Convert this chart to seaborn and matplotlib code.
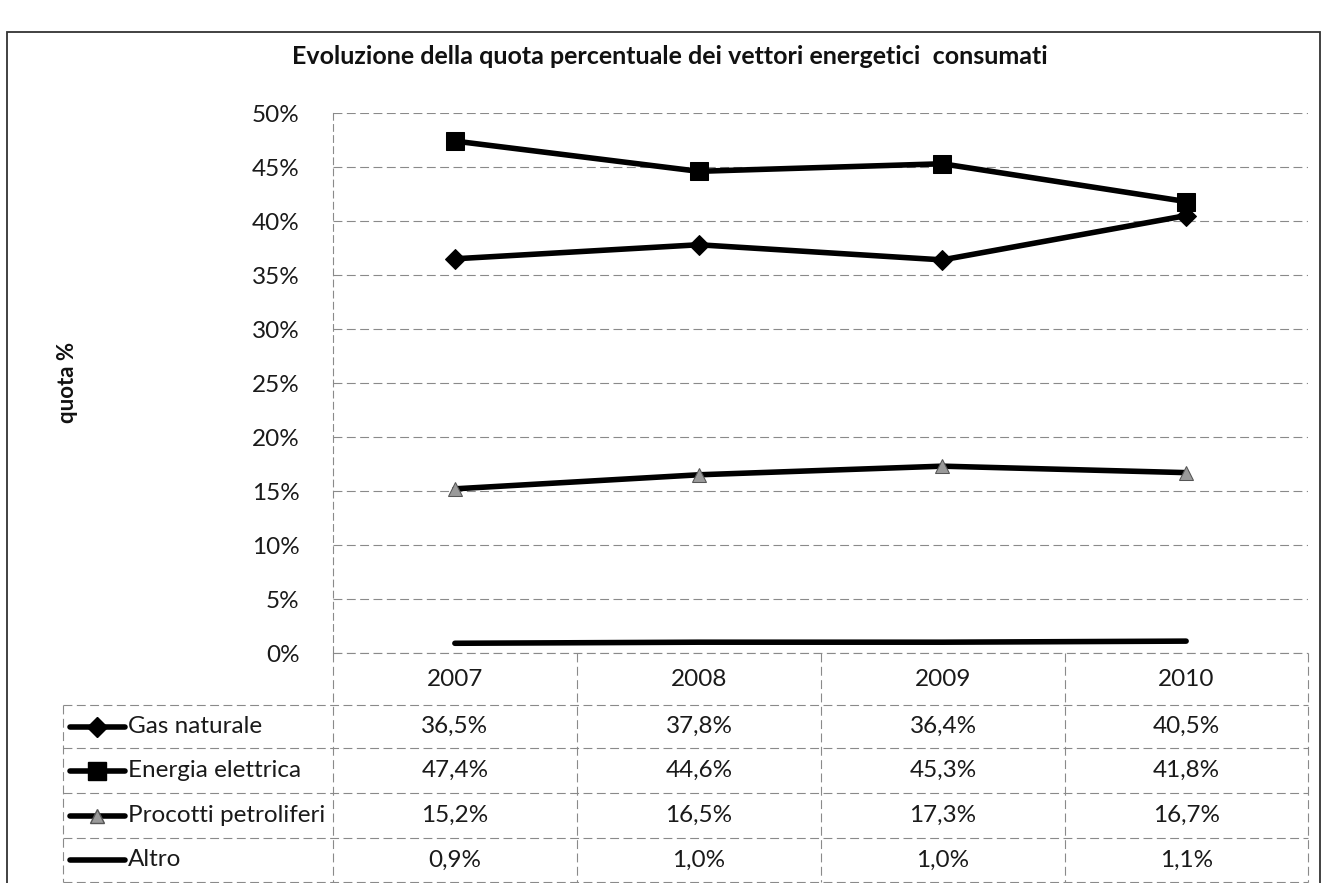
import matplotlib
matplotlib.use("Agg")
import numpy as np
import pandas as pd
import matplotlib.pyplot as plt
import seaborn as sns
from matplotlib.lines import Line2D
from matplotlib.patches import Rectangle

# ---------------- data ----------------
years = ["2007", "2008", "2009", "2010"]
series = ["Gas naturale", "Energia elettrica", "Procotti petroliferi", "Altro"]
gas_naturale = [36.5, 37.8, 36.4, 40.5]
energia_elettrica = [47.4, 44.6, 45.3, 41.8]
prodotti_petroliferi = [15.2, 16.5, 17.3, 16.7]
altro = [0.9, 1.0, 1.0, 1.1]
y_ticks = [0, 5, 10, 15, 20, 25, 30, 35, 40, 45, 50]
title = "Evoluzione della quota percentuale dei vettori energetici  consumati"
y_label = "quota %"

values = [gas_naturale, energia_elettrica, prodotti_petroliferi, altro]
df = pd.DataFrame({
    "serie": np.repeat(series, len(years)),
    "anno": years * len(series),
    "pos": list(range(len(years))) * len(series),
    "valore": np.concatenate(values),
})

# ---------------- style ----------------
sns.set_theme(style="white")
plt.rcParams['font.family'] = ['Lato', 'DejaVu Sans']

W, H = 1327, 883
fig = plt.figure(figsize=(W / 100, H / 100), dpi=100)
fig.patch.set_facecolor("white")

FS = 17.5
TXT = "#1a1a1a"


def fx(px):
    return px / W


def fy(py):
    return 1 - py / H


L, R, T, B = 333, 1308, 113, 653
ax = fig.add_axes([fx(L), fy(B), fx(R) - fx(L), fy(T) - fy(B)])

marker_style = {
    "Gas naturale": dict(marker="D", markersize=10, markerfacecolor="black", markeredgecolor="black"),
    "Energia elettrica": dict(marker="s", markersize=13, markerfacecolor="black", markeredgecolor="black"),
    "Procotti petroliferi": dict(marker="^", markersize=10, markerfacecolor="#9a9a9a", markeredgecolor="#555555"),
    "Altro": dict(marker=None),
}

for name in series:
    sub = df[df["serie"] == name]
    sns.lineplot(data=sub, x="pos", y="valore", ax=ax, color="black", lw=4,
                 legend=False, **marker_style[name])

ax.set_xlim(-0.5, len(years) - 0.5)
ax.set_ylim(0, 50)
ax.set_yticks(y_ticks)
ax.set_yticklabels([f"{v}%" for v in y_ticks], fontsize=FS, color=TXT)
ax.set_xticks([])
ax.set_xlabel("")
ax.set_ylabel("")
ax.tick_params(axis="y", length=0, pad=24)
ax.grid(axis="y", color="#8a8a8a", lw=0.8, ls=(0, (8, 4)))
for s in ["top", "right", "bottom"]:
    ax.spines[s].set_visible(False)
ax.spines["left"].set_color("#8a8a8a")
ax.spines["left"].set_linestyle((0, (6, 4)))
ax.spines["left"].set_linewidth(0.8)
ax.patch.set_alpha(0)

# title and y label
fig.text(fx(670), fy(57), title, ha="center", va="center", fontsize=18,
         fontweight="bold", color="#111111")
fig.text(fx(68), fy(382), y_label, ha="center", va="center", rotation=90,
         fontsize=16, fontweight="bold", color="#111111")

# ---------------- data table ----------------
col_edges = [333, 577, 821, 1065, 1308]
row_edges = [705, 748, 793, 838, 882]
tab_left = 63
grid_kw = dict(color="#8a8a8a", lw=0.8, ls=(0, (8, 4)))


def hline(y, x0, x1):
    fig.add_artist(Line2D([fx(x0), fx(x1)], [fy(y), fy(y)], **grid_kw))


def vline(x, y0, y1):
    fig.add_artist(Line2D([fx(x), fx(x)], [fy(y0), fy(y1)], **grid_kw))


hline(653, col_edges[0], col_edges[-1])
for y in row_edges:
    hline(y, tab_left, col_edges[-1])
for x in col_edges:
    vline(x, 653, row_edges[-1])
vline(tab_left, row_edges[0], row_edges[-1])

# header
for i, yr in enumerate(years):
    cx = (col_edges[i] + col_edges[i + 1]) / 2
    fig.text(fx(cx), fy(680), yr, ha="center", va="center", fontsize=FS, color=TXT)

# rows
for r, name in enumerate(series):
    cy = (row_edges[r] + row_edges[r + 1]) / 2
    # legend key
    fig.add_artist(Line2D([fx(70), fx(125)], [fy(cy), fy(cy)], color="black", lw=4))
    ms = marker_style[name]
    if ms.get("marker"):
        fig.add_artist(Line2D([fx(97)], [fy(cy)], color="black", lw=0, **ms))
    fig.text(fx(128), fy(cy), name, ha="left", va="center", fontsize=FS, color=TXT)
    for i, v in enumerate(values[r]):
        cx = (col_edges[i] + col_edges[i + 1]) / 2
        txt = f"{v:.1f}".replace(".", ",") + "%"
        fig.text(fx(cx), fy(cy), txt, ha="center", va="center", fontsize=FS, color=TXT)

# outer frame
fig.add_artist(Rectangle((fx(7), fy(890)), fx(1320) - fx(7), fy(32) - fy(890),
                         fill=False, edgecolor="#333333", lw=1.3))

fig.savefig("out.png", dpi=100, facecolor="white")
